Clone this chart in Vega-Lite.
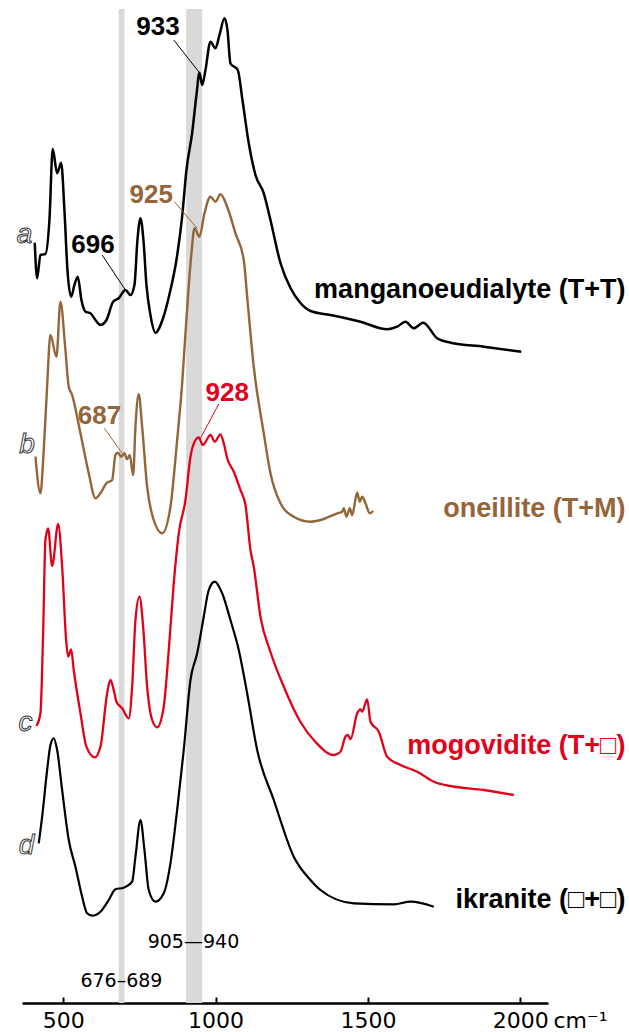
{
  "$schema": "https://vega.github.io/schema/vega-lite/v6.json",
  "width": 526,
  "height": 1003,
  "autosize": {"type": "none"},
  "padding": {"left": 22, "top": 0, "right": 81, "bottom": 29},
  "background": "white",
  "config": {"view": {"stroke": null}, "font": "Liberation Sans"},
  "datasets": {
    "bands": [
      {"label": "676–689", "from": 682.5, "to": 701},
      {"label": "905–940", "from": 903.7, "to": 956}
    ],
    "spectra": [
      {"s": "a", "wn": 406.8, "v": 760.3}, {"s": "a", "wn": 414.6, "v": 724.7}, {"s": "a", "wn": 425.5, "v": 748}, {"s": "a", "wn": 441.9, "v": 749}, {"s": "a", "wn": 455, "v": 783}, {"s": "a", "wn": 465.8, "v": 854}, {"s": "a", "wn": 480.3, "v": 829.7}, {"s": "a", "wn": 493.4, "v": 840.3}, {"s": "a", "wn": 504.2, "v": 793}, {"s": "a", "wn": 514.1, "v": 733}, {"s": "a", "wn": 526.2, "v": 706.3}, {"s": "a", "wn": 537, "v": 718}, {"s": "a", "wn": 548, "v": 726.3}, {"s": "a", "wn": 560, "v": 703}, {"s": "a", "wn": 573.2, "v": 691.3}, {"s": "a", "wn": 589.6, "v": 689.7}, {"s": "a", "wn": 606, "v": 683}, {"s": "a", "wn": 622.4, "v": 678}, {"s": "a", "wn": 642.1, "v": 683}, {"s": "a", "wn": 664.1, "v": 701.3}, {"s": "a", "wn": 682.4, "v": 704.7}, {"s": "a", "wn": 704.4, "v": 713}, {"s": "a", "wn": 720.8, "v": 708}, {"s": "a", "wn": 734, "v": 718}, {"s": "a", "wn": 743.8, "v": 763}, {"s": "a", "wn": 753.7, "v": 784.7}, {"s": "a", "wn": 763.5, "v": 763}, {"s": "a", "wn": 773.4, "v": 718}, {"s": "a", "wn": 786.5, "v": 688}, {"s": "a", "wn": 802.9, "v": 670.3}, {"s": "a", "wn": 825.9, "v": 683}, {"s": "a", "wn": 852.1, "v": 713}, {"s": "a", "wn": 871.8, "v": 743}, {"s": "a", "wn": 890.5, "v": 786.3}, {"s": "a", "wn": 904.6, "v": 833}, {"s": "a", "wn": 923.3, "v": 870}, {"s": "a", "wn": 937.4, "v": 908}, {"s": "a", "wn": 947.3, "v": 930.3}, {"s": "a", "wn": 956.2, "v": 918}, {"s": "a", "wn": 967, "v": 933}, {"s": "a", "wn": 983.4, "v": 961.3}, {"s": "a", "wn": 999.8, "v": 954.7}, {"s": "a", "wn": 1013, "v": 968}, {"s": "a", "wn": 1029.3, "v": 984.7}, {"s": "a", "wn": 1039.2, "v": 973}, {"s": "a", "wn": 1049, "v": 939.7}, {"s": "a", "wn": 1073, "v": 933}, {"s": "a", "wn": 1088.4, "v": 903}, {"s": "a", "wn": 1109.1, "v": 859.7}, {"s": "a", "wn": 1131.1, "v": 828}, {"s": "a", "wn": 1158.3, "v": 809.7}, {"s": "a", "wn": 1180.3, "v": 783}, {"s": "a", "wn": 1213.1, "v": 740}, {"s": "a", "wn": 1246, "v": 715}, {"s": "a", "wn": 1278.8, "v": 700}, {"s": "a", "wn": 1311.6, "v": 692}, {"s": "a", "wn": 1377.2, "v": 688}, {"s": "a", "wn": 1475.7, "v": 681.3}, {"s": "a", "wn": 1563.3, "v": 673.7}, {"s": "a", "wn": 1596.1, "v": 676.3}, {"s": "a", "wn": 1623.4, "v": 681.3}, {"s": "a", "wn": 1650.6, "v": 674.7}, {"s": "a", "wn": 1681.5, "v": 680.3}, {"s": "a", "wn": 1727.4, "v": 664.7}, {"s": "a", "wn": 1771.1, "v": 660.3}, {"s": "a", "wn": 1880.3, "v": 656.3}, {"s": "a", "wn": 2003.1, "v": 651.3},

      {"s": "b", "wn": 409.1, "v": 546.3}, {"s": "b", "wn": 425.5, "v": 509.7}, {"s": "b", "wn": 436.3, "v": 553}, {"s": "b", "wn": 446.8, "v": 613}, {"s": "b", "wn": 458.3, "v": 668}, {"s": "b", "wn": 478, "v": 646.3}, {"s": "b", "wn": 491.1, "v": 701}, {"s": "b", "wn": 507.5, "v": 653}, {"s": "b", "wn": 518.3, "v": 616.3}, {"s": "b", "wn": 529.5, "v": 608}, {"s": "b", "wn": 556.8, "v": 569.7}, {"s": "b", "wn": 584, "v": 529.7}, {"s": "b", "wn": 606, "v": 504.7}, {"s": "b", "wn": 622.4, "v": 509.7}, {"s": "b", "wn": 642.1, "v": 519.7}, {"s": "b", "wn": 660.8, "v": 523}, {"s": "b", "wn": 671.6, "v": 548}, {"s": "b", "wn": 679.2, "v": 550.3}, {"s": "b", "wn": 690.3, "v": 546.3}, {"s": "b", "wn": 701.2, "v": 549.7}, {"s": "b", "wn": 710, "v": 543.7}, {"s": "b", "wn": 718.6, "v": 548}, {"s": "b", "wn": 729.7, "v": 528}, {"s": "b", "wn": 737.3, "v": 576.3}, {"s": "b", "wn": 748.1, "v": 608.7}, {"s": "b", "wn": 759.2, "v": 576.3}, {"s": "b", "wn": 775.6, "v": 516.3}, {"s": "b", "wn": 797.3, "v": 483}, {"s": "b", "wn": 824.9, "v": 469.7}, {"s": "b", "wn": 852.1, "v": 496.3}, {"s": "b", "wn": 874.1, "v": 563}, {"s": "b", "wn": 890.5, "v": 619.7}, {"s": "b", "wn": 901.4, "v": 669.7}, {"s": "b", "wn": 911.2, "v": 713}, {"s": "b", "wn": 921, "v": 749.7}, {"s": "b", "wn": 930.9, "v": 774.7}, {"s": "b", "wn": 947.3, "v": 766.3}, {"s": "b", "wn": 963.7, "v": 789.7}, {"s": "b", "wn": 983.4, "v": 806.3}, {"s": "b", "wn": 999.8, "v": 801.3}, {"s": "b", "wn": 1016.2, "v": 808.7}, {"s": "b", "wn": 1038.2, "v": 796.3}, {"s": "b", "wn": 1065.5, "v": 769.7}, {"s": "b", "wn": 1092.7, "v": 743}, {"s": "b", "wn": 1104.8, "v": 703}, {"s": "b", "wn": 1125.5, "v": 636.3}, {"s": "b", "wn": 1158.3, "v": 569.7}, {"s": "b", "wn": 1180.3, "v": 529.7}, {"s": "b", "wn": 1213.1, "v": 499.7}, {"s": "b", "wn": 1256.8, "v": 486.3}, {"s": "b", "wn": 1311.6, "v": 481.3}, {"s": "b", "wn": 1344.4, "v": 483}, {"s": "b", "wn": 1399.2, "v": 489.7}, {"s": "b", "wn": 1415.6, "v": 491.3}, {"s": "b", "wn": 1420.9, "v": 494.7}, {"s": "b", "wn": 1429.7, "v": 486.3}, {"s": "b", "wn": 1440.6, "v": 494.7}, {"s": "b", "wn": 1448.4, "v": 488}, {"s": "b", "wn": 1464.9, "v": 510.3}, {"s": "b", "wn": 1473.4, "v": 501.3}, {"s": "b", "wn": 1481.3, "v": 506.3}, {"s": "b", "wn": 1492.1, "v": 499.7}, {"s": "b", "wn": 1506.2, "v": 489.7}, {"s": "b", "wn": 1517.4, "v": 492},

      {"s": "c", "wn": 412.3, "v": 277}, {"s": "c", "wn": 425.5, "v": 289.7}, {"s": "c", "wn": 434.3, "v": 369.7}, {"s": "c", "wn": 441.9, "v": 463}, {"s": "c", "wn": 450.7, "v": 474.7}, {"s": "c", "wn": 463.9, "v": 437}, {"s": "c", "wn": 483.6, "v": 479}, {"s": "c", "wn": 496.7, "v": 436.3}, {"s": "c", "wn": 509.8, "v": 363}, {"s": "c", "wn": 516.4, "v": 346.3}, {"s": "c", "wn": 526.2, "v": 353.7}, {"s": "c", "wn": 534.8, "v": 333}, {"s": "c", "wn": 556.8, "v": 289.7}, {"s": "c", "wn": 576.4, "v": 256.3}, {"s": "c", "wn": 603.7, "v": 245.7}, {"s": "c", "wn": 622.4, "v": 256.3}, {"s": "c", "wn": 644.4, "v": 309.7}, {"s": "c", "wn": 655.2, "v": 323}, {"s": "c", "wn": 666, "v": 313}, {"s": "c", "wn": 674.9, "v": 301.3}, {"s": "c", "wn": 693.6, "v": 294.7}, {"s": "c", "wn": 715.3, "v": 284.7}, {"s": "c", "wn": 726.4, "v": 316.3}, {"s": "c", "wn": 737.3, "v": 383}, {"s": "c", "wn": 750.4, "v": 406.3}, {"s": "c", "wn": 762.5, "v": 376.3}, {"s": "c", "wn": 775.6, "v": 316.3}, {"s": "c", "wn": 792.1, "v": 283}, {"s": "c", "wn": 808.5, "v": 275.7}, {"s": "c", "wn": 830.1, "v": 296.3}, {"s": "c", "wn": 846.6, "v": 353}, {"s": "c", "wn": 863, "v": 419.7}, {"s": "c", "wn": 879.4, "v": 469.7}, {"s": "c", "wn": 901.4, "v": 503}, {"s": "c", "wn": 917.8, "v": 546.3}, {"s": "c", "wn": 934.2, "v": 563}, {"s": "c", "wn": 945, "v": 565.7}, {"s": "c", "wn": 958.1, "v": 558}, {"s": "c", "wn": 983.4, "v": 568}, {"s": "c", "wn": 997.5, "v": 561.3}, {"s": "c", "wn": 1016.2, "v": 568.7}, {"s": "c", "wn": 1027, "v": 559.7}, {"s": "c", "wn": 1038.2, "v": 544.7}, {"s": "c", "wn": 1059.9, "v": 531.3}, {"s": "c", "wn": 1081.9, "v": 513}, {"s": "c", "wn": 1098.3, "v": 498}, {"s": "c", "wn": 1114.7, "v": 453}, {"s": "c", "wn": 1125.5, "v": 436.3}, {"s": "c", "wn": 1147.5, "v": 386.3}, {"s": "c", "wn": 1180.3, "v": 351}, {"s": "c", "wn": 1224, "v": 316.3}, {"s": "c", "wn": 1278.8, "v": 281}, {"s": "c", "wn": 1328, "v": 261}, {"s": "c", "wn": 1388.1, "v": 248}, {"s": "c", "wn": 1410.1, "v": 251.3}, {"s": "c", "wn": 1426.4, "v": 266.3}, {"s": "c", "wn": 1434.1, "v": 268}, {"s": "c", "wn": 1442.9, "v": 263.7}, {"s": "c", "wn": 1464.9, "v": 289.7}, {"s": "c", "wn": 1475.7, "v": 293.7}, {"s": "c", "wn": 1481.3, "v": 291.3}, {"s": "c", "wn": 1497.7, "v": 303.7}, {"s": "c", "wn": 1508.5, "v": 281.3}, {"s": "c", "wn": 1535.8, "v": 271.3}, {"s": "c", "wn": 1563.3, "v": 246.3}, {"s": "c", "wn": 1607, "v": 238}, {"s": "c", "wn": 1661.8, "v": 231.3}, {"s": "c", "wn": 1716.3, "v": 221.3}, {"s": "c", "wn": 1771.1, "v": 217}, {"s": "c", "wn": 1880.3, "v": 213}, {"s": "c", "wn": 1978.8, "v": 208},

      {"s": "d", "wn": 419.9, "v": 159.7}, {"s": "d", "wn": 431.1, "v": 186.3}, {"s": "d", "wn": 447.5, "v": 233}, {"s": "d", "wn": 458.3, "v": 258}, {"s": "d", "wn": 469.1, "v": 264.7}, {"s": "d", "wn": 480.3, "v": 253}, {"s": "d", "wn": 496.7, "v": 213}, {"s": "d", "wn": 518.4, "v": 163}, {"s": "d", "wn": 540.3, "v": 136.3}, {"s": "d", "wn": 562.3, "v": 106.3}, {"s": "d", "wn": 578.7, "v": 89.7}, {"s": "d", "wn": 595.2, "v": 87.3}, {"s": "d", "wn": 622.4, "v": 91.3}, {"s": "d", "wn": 649.6, "v": 103}, {"s": "d", "wn": 671.6, "v": 113.7}, {"s": "d", "wn": 698.9, "v": 115.3}, {"s": "d", "wn": 726.4, "v": 121.3}, {"s": "d", "wn": 737.3, "v": 146.3}, {"s": "d", "wn": 753.7, "v": 183}, {"s": "d", "wn": 766.8, "v": 153}, {"s": "d", "wn": 780.9, "v": 113}, {"s": "d", "wn": 802.9, "v": 101.3}, {"s": "d", "wn": 830.1, "v": 109.7}, {"s": "d", "wn": 852.1, "v": 139.7}, {"s": "d", "wn": 874.1, "v": 193}, {"s": "d", "wn": 895.8, "v": 253}, {"s": "d", "wn": 917.8, "v": 323}, {"s": "d", "wn": 939.8, "v": 349.7}, {"s": "d", "wn": 961.4, "v": 386.3}, {"s": "d", "wn": 977.8, "v": 413}, {"s": "d", "wn": 997.5, "v": 421.3}, {"s": "d", "wn": 1021.8, "v": 409.7}, {"s": "d", "wn": 1049, "v": 383}, {"s": "d", "wn": 1076.3, "v": 353}, {"s": "d", "wn": 1103.8, "v": 309.7}, {"s": "d", "wn": 1136.7, "v": 253}, {"s": "d", "wn": 1191.2, "v": 203}, {"s": "d", "wn": 1256.8, "v": 146.3}, {"s": "d", "wn": 1311.6, "v": 123}, {"s": "d", "wn": 1344.4, "v": 113}, {"s": "d", "wn": 1453.7, "v": 99.7}, {"s": "d", "wn": 1585, "v": 98.7}, {"s": "d", "wn": 1639.8, "v": 101.3}, {"s": "d", "wn": 1716.3, "v": 96.3}
    ],
    "peaks": [
      {"s": "a", "text": "933", "wn": 811.1, "v": 976.3, "wn0": 863, "v0": 963, "wn1": 947.3, "v1": 930.3},
      {"s": "a", "text": "696", "wn": 597.8, "v": 758, "wn0": 628, "v0": 748, "wn1": 704.4, "v1": 713},
      {"s": "b", "text": "925", "wn": 789.1, "v": 808, "wn0": 865.3, "v0": 801.3, "wn1": 939.7, "v1": 774.7},
      {"s": "b", "text": "687", "wn": 619.1, "v": 587, "wn0": 635.5, "v0": 574.7, "wn1": 693.6, "v1": 549.7},
      {"s": "c", "text": "928", "wn": 1038.2, "v": 610, "wn0": 1010.6, "v0": 599, "wn1": 950.6, "v1": 564.7}
    ],
    "names": [
      {"s": "a", "text": "manganoeudialyte (T+T)", "wn": 2345, "v": 713, "letter": "a", "lwn": 373, "lv": 768},
      {"s": "b", "text": "oneillite (T+M)", "wn": 2345, "v": 494, "letter": "b", "lwn": 381.8, "lv": 558},
      {"s": "c", "text": "mogovidite (T+□)", "wn": 2345, "v": 257, "letter": "c", "lwn": 376.3, "lv": 280},
      {"s": "d", "text": "ikranite (□+□)", "wn": 2345, "v": 103, "letter": "d", "lwn": 379.5, "lv": 157}
    ],
    "bandLabels": [
      {"text": "676–689", "wn": 691.3, "v": 22.3},
      {"text": "905—940", "wn": 927.6, "v": 61.3}
    ]
  },
  "layer": [
    {
      "data": {"name": "bands"},
      "mark": {"type": "rect", "color": "#d9d9d9"},
      "encoding": {
        "x": {"field": "from", "type": "quantitative", "scale": {"domain": [365, 2091], "nice": false, "zero": false},
          "axis": {"values": [500, 1000, 1500, 2000], "format": "d", "grid": false, "domainColor": "black", "domainWidth": 2.5, "tickColor": "black", "tickWidth": 2, "tickSize": -6, "labelPadding": 13, "labelFontSize": 22, "labelColor": "black", "labelFont": "DejaVu Sans", "labelFlush": false, "title": "cm⁻¹", "titleX": 531, "titleY": 24, "titleAlign": "left", "titleBaseline": "alphabetic", "titleFontSize": 22, "titleFontWeight": "normal", "titleFont": "DejaVu Sans", "titleColor": "black"}},
        "x2": {"field": "to"},
        "y": {"datum": 994, "type": "quantitative", "scale": {"domain": [0, 1003], "nice": false, "zero": false}, "axis": null},
        "y2": {"datum": 0}
      }
    },
    {
      "data": {"name": "spectra"},
      "mark": {"type": "line", "interpolate": "monotone"},
      "encoding": {
        "x": {"field": "wn", "type": "quantitative"},
        "y": {"field": "v", "type": "quantitative"},
        "color": {"field": "s", "type": "nominal", "scale": {"domain": ["a", "b", "c", "d"], "range": ["#000000", "#946538", "#e2001a", "#000000"]}, "legend": null},
        "strokeWidth": {"field": "s", "type": "nominal", "scale": {"domain": ["a", "b", "c", "d"], "range": [2.5, 2.2, 2.3, 1.6]}, "legend": null}
      }
    },
    {
      "data": {"name": "peaks"},
      "mark": {"type": "rule", "strokeWidth": 1},
      "encoding": {
        "x": {"field": "wn0", "type": "quantitative"},
        "y": {"field": "v0", "type": "quantitative"},
        "x2": {"field": "wn1"},
        "y2": {"field": "v1"},
        "color": {"field": "s", "type": "nominal", "legend": null}
      }
    },
    {
      "data": {"name": "peaks"},
      "mark": {"type": "text", "fontSize": 26, "fontWeight": "bold", "font": "Liberation Sans", "align": "center", "baseline": "middle"},
      "encoding": {
        "x": {"field": "wn", "type": "quantitative"},
        "y": {"field": "v", "type": "quantitative"},
        "text": {"field": "text"},
        "color": {"field": "s", "type": "nominal", "legend": null}
      }
    },
    {
      "data": {"name": "names"},
      "mark": {"type": "text", "fontSize": 27, "fontWeight": "bold", "font": "Liberation Sans", "align": "right", "baseline": "middle"},
      "encoding": {
        "x": {"field": "wn", "type": "quantitative"},
        "y": {"field": "v", "type": "quantitative"},
        "text": {"field": "text"},
        "color": {"field": "s", "type": "nominal", "legend": null}
      }
    },
    {
      "data": {"name": "names"},
      "mark": {"type": "text", "fontSize": 28, "fontStyle": "italic", "font": "Liberation Sans", "align": "center", "baseline": "middle", "fill": "white", "stroke": "#333333", "strokeWidth": 1},
      "encoding": {
        "x": {"field": "lwn", "type": "quantitative"},
        "y": {"field": "lv", "type": "quantitative"},
        "text": {"field": "letter"}
      }
    },
    {
      "data": {"name": "bandLabels"},
      "mark": {"type": "text", "fontSize": 19, "font": "DejaVu Sans", "align": "center", "baseline": "middle", "color": "black"},
      "encoding": {
        "x": {"field": "wn", "type": "quantitative"},
        "y": {"field": "v", "type": "quantitative"},
        "text": {"field": "text"}
      }
    }
  ]
}
